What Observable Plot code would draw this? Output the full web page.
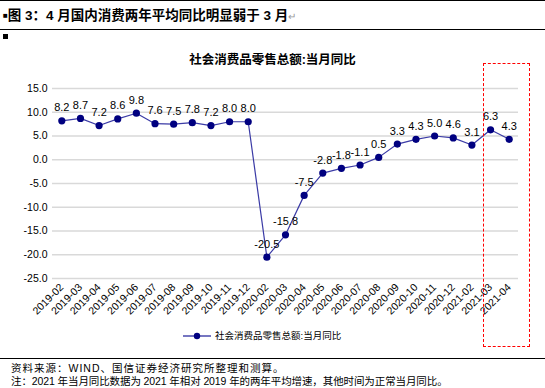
<!DOCTYPE html>
<html>
<head>
<meta charset="utf-8">
<script src="https://cdn.jsdelivr.net/npm/d3@7"></script>
<script src="https://cdn.jsdelivr.net/npm/@observablehq/plot@0.6"></script>
<style>
  html, body { margin: 0; padding: 0; background: #fff; }
  #wrap { position: relative; width: 545px; height: 388px; overflow: hidden; background: #fff;
          font-family: "Liberation Sans", "Noto Sans CJK SC", sans-serif; color: #000; }
  .abs { position: absolute; }
  #topline { left: 0; top: 0; width: 545px; height: 0; border-top: 1.5px solid #000; }
  #title { left: 3px; top: 7px; font-size: 13.5px; font-weight: bold; white-space: nowrap; line-height: 18px; }
  #title .sq { font-size: 8px; vertical-align: 2px; }
  #title .ret { color: #999; font-weight: normal; font-size: 10px; }
  #line2 { left: 0; top: 29px; width: 545px; height: 0; border-top: 1px solid #000; }
  #sq2 { left: 3px; top: 34px; width: 5px; height: 5px; background: #000; }
  #ctitle { left: 0; width: 545px; top: 52px; text-align: center; font-size: 12.5px; font-weight: bold; line-height: 16px; }
  #chart { left: 0; top: 40px; }
  #legend { left: 183px; top: 329px; white-space: nowrap; font-size: 9.5px; line-height: 14px; display: flex; align-items: center; }
  #legend svg { margin-right: 4px; }
  #line3 { left: 0; top: 358px; width: 545px; height: 0; border-top: 1.5px solid #000; }
  .src { left: 11px; font-size: 10.5px; white-space: nowrap; line-height: 13px; }
  #src1 { letter-spacing: 1px; }
  #src2 { letter-spacing: -0.1px; }
  #redbox { border: 1px dashed #ff0000; box-sizing: border-box; }
</style>
</head>
<body>
<div id="wrap">
  <div id="topline" class="abs"></div>
  <div id="title" class="abs"><span class="sq">■</span>图 3：4 月国内消费两年平均同比明显弱于 3 月<span class="ret">↵</span></div>
  <div id="line2" class="abs"></div>
  <div id="sq2" class="abs"></div>
  <div id="chart" class="abs"></div>
  <div id="ctitle" class="abs">社会消费品零售总额:当月同比</div>
  <div id="legend" class="abs"></div>
  <div id="line3" class="abs"></div>
  <div id="src1" class="abs src" style="top:362px">资料来源：WIND、国信证券经济研究所整理和测算。</div>
  <div id="src2" class="abs src" style="top:375px">注：2021 年当月同比数据为 2021 年相对 2019 年的两年平均增速，其他时间为正常当月同比。</div>
</div>
<script>
const seriesName = "社会消费品零售总额:当月同比";
const months = ["2019-02","2019-03","2019-04","2019-05","2019-06","2019-07","2019-08","2019-09","2019-10","2019-11","2019-12",
  "2020-02","2020-03","2020-04","2020-05","2020-06","2020-07","2020-08","2020-09","2020-10","2020-11","2020-12",
  "2021-02","2021-03","2021-04"];
const values = [8.2, 8.7, 7.2, 8.6, 9.8, 7.6, 7.5, 7.8, 7.2, 8.0, 8.0,
  -20.5, -15.8, -7.5, -2.8, -1.8, -1.1, 0.5, 3.3, 4.3, 5.0, 4.6,
  3.1, 6.3, 4.3];
const yTicks = [-25, -20, -15, -10, -5, 0, 5, 10, 15];
const highlighted = ["2021-03", "2021-04"];

const data = months.map((m, i) => ({ month: m, value: values[i] }));
const fmt = d => d.toFixed(1);

const lineColor = "#3b3ba6";
const dotColor = "#000080";

const plot = Plot.plot({
  width: 545,
  height: 300,
  marginLeft: 52,
  marginRight: 27,
  marginTop: 48,
  marginBottom: 62,
  style: { fontFamily: "Liberation Sans, Arial, sans-serif", fontSize: "11px", color: "#000", background: "transparent", overflow: "visible" },
  x: { type: "band", domain: months, padding: 0, round: false, label: null },
  y: { domain: [-25, 15], label: null },
  marks: [
    Plot.ruleY(yTicks, { stroke: "#d9d9d9", strokeWidth: 1.6 }),
    Plot.axisY({ ticks: yTicks, tickFormat: fmt, tickSize: 0, tickPadding: 5, fontSize: 10.5, label: null }),
    Plot.axisX({ tickRotate: -45, tickSize: 0, tickPadding: 7, fontSize: 10.5, label: null }),
    Plot.line(data, { x: "month", y: "value", stroke: lineColor, strokeWidth: 1.2 }),
    Plot.dot(data, { x: "month", y: "value", r: 3.6, fill: dotColor, stroke: "none" }),
    Plot.text(data, { x: "month", y: "value", text: d => fmt(d.value), dy: -13, fontSize: 11, fill: "#000" })
  ]
});
document.getElementById("chart").appendChild(plot);

// highlight box positioned from the x scale
const xs = plot.scale("x");
const bw = xs.bandwidth;
const x0 = xs.apply(highlighted[0]) + 2;
const x1 = xs.apply(highlighted[highlighted.length - 1]) + bw + 12;
const box = document.createElement("div");
box.id = "redbox";
box.className = "abs";
box.style.left = x0 + "px";
box.style.width = (x1 - x0) + "px";
box.style.top = "63px";
box.style.height = "284px";
document.getElementById("wrap").appendChild(box);

// legend
const leg = document.getElementById("legend");
leg.innerHTML = `<svg width="28" height="8"><line x1="0" y1="4" x2="28" y2="4" stroke="${lineColor}" stroke-width="1.4"/><circle cx="14" cy="4" r="3.2" fill="${dotColor}"/></svg><span>${seriesName}</span>`;
</script>
</body>
</html>
